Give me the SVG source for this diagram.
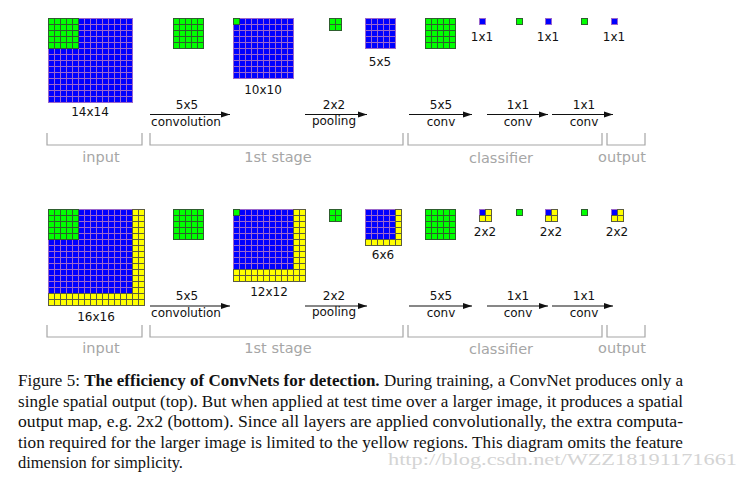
<svg xmlns="http://www.w3.org/2000/svg" width="749" height="478" viewBox="0 0 749 478">
<style>
.lb{font-family:"DejaVu Sans",sans-serif;font-size:12px;fill:#111;text-anchor:middle}
.gl{font-family:"DejaVu Sans",sans-serif;font-size:14.5px;fill:#a6a6a6;text-anchor:middle}
.br{fill:none;stroke:#a6a6a6;stroke-width:1.2}
.ar{stroke:#111;stroke-width:1.2;fill:none;marker-end:url(#ah)}
.cap{font-family:"Liberation Serif","Times New Roman",serif;font-size:17px;fill:#111}
.wm{font-family:"Liberation Serif",serif;font-size:16px;fill:#d4d4d4}
</style>
<defs>
<pattern id="pg" width="6" height="6" patternUnits="userSpaceOnUse"><rect width="6" height="6" fill="#00ff00"/><path d="M0.5 0V6M0 0.5H6" stroke="#2e5e2e" stroke-width="1"/></pattern>
<pattern id="pb" width="6" height="6" patternUnits="userSpaceOnUse"><rect width="6" height="6" fill="#0000ff"/><path d="M0.5 0V6M0 0.5H6" stroke="#9a66cc" stroke-width="1"/></pattern>
<pattern id="py" width="6" height="6" patternUnits="userSpaceOnUse"><rect width="6" height="6" fill="#ffff00"/><path d="M0.5 0V6M0 0.5H6" stroke="#5c5c40" stroke-width="1"/></pattern>
<marker id="ah" markerWidth="10" markerHeight="8" refX="9" refY="4" orient="auto" markerUnits="userSpaceOnUse"><path d="M0 1L9 4L0 7Z" fill="#111"/></marker>
</defs>
<rect width="749" height="478" fill="#fff"/>

<!-- top row -->
<g id="t-input" transform="translate(48,18)"><rect width="85" height="85" fill="url(#pb)"/><rect width="31" height="31" fill="url(#pg)"/></g>
<text class="lb" x="90" y="116">14x14</text>
<g id="t-k1" transform="translate(173,18)"><rect width="31" height="31" fill="url(#pg)"/></g>
<g id="t-c1" transform="translate(233,18)"><rect width="61" height="61" fill="url(#pb)"/><rect width="7" height="7" fill="url(#pg)"/></g>
<text class="lb" x="263" y="94">10x10</text>
<g id="t-p1" transform="translate(329,18)"><rect width="13" height="13" fill="url(#pg)"/></g>
<g id="t-s1" transform="translate(365,18)"><rect width="31" height="31" fill="url(#pb)"/></g>
<text class="lb" x="380" y="66">5x5</text>
<g id="t-k2" transform="translate(425,18)"><rect width="31" height="31" fill="url(#pg)"/></g>
<g id="t-o1" transform="translate(479,18)"><rect width="7" height="7" fill="url(#pb)"/></g>
<text class="lb" x="482" y="41">1x1</text>
<g id="t-k3" transform="translate(516,18)"><rect width="7" height="7" fill="url(#pg)"/></g>
<g id="t-o2" transform="translate(545,18)"><rect width="7" height="7" fill="url(#pb)"/></g>
<text class="lb" x="548" y="41">1x1</text>
<g id="t-k4" transform="translate(581,18)"><rect width="7" height="7" fill="url(#pg)"/></g>
<g id="t-o3" transform="translate(611,18)"><rect width="7" height="7" fill="url(#pb)"/></g>
<text class="lb" x="614" y="41">1x1</text>

<!-- bottom row -->
<g id="b-input" transform="translate(48,209)"><rect width="97" height="97" fill="url(#py)"/><rect width="84" height="84" fill="url(#pb)"/><rect width="31" height="31" fill="url(#pg)"/></g>
<text class="lb" x="96" y="321">16x16</text>
<g id="b-k1" transform="translate(173,209)"><rect width="31" height="31" fill="url(#pg)"/></g>
<g id="b-c1" transform="translate(233,209)"><rect width="73" height="73" fill="url(#py)"/><rect width="60" height="60" fill="url(#pb)"/><rect width="7" height="7" fill="url(#pg)"/></g>
<text class="lb" x="269" y="296">12x12</text>
<g id="b-p1" transform="translate(329,209)"><rect width="13" height="13" fill="url(#pg)"/></g>
<g id="b-s1" transform="translate(365,209)"><rect width="37" height="37" fill="url(#py)"/><rect width="30" height="30" fill="url(#pb)"/></g>
<text class="lb" x="383" y="259">6x6</text>
<g id="b-k2" transform="translate(425,209)"><rect width="31" height="31" fill="url(#pg)"/></g>
<g id="b-o1" transform="translate(479,209)"><rect width="13" height="13" fill="url(#py)"/><rect width="6" height="6" fill="url(#pb)"/></g>
<text class="lb" x="485" y="236">2x2</text>
<g id="b-k3" transform="translate(516,209)"><rect width="7" height="7" fill="url(#pg)"/></g>
<g id="b-o2" transform="translate(545,209)"><rect width="13" height="13" fill="url(#py)"/><rect width="6" height="6" fill="url(#pb)"/></g>
<text class="lb" x="551" y="236">2x2</text>
<g id="b-k4" transform="translate(581,209)"><rect width="7" height="7" fill="url(#pg)"/></g>
<g id="b-o3" transform="translate(611,209)"><rect width="13" height="13" fill="url(#py)"/><rect width="6" height="6" fill="url(#pb)"/></g>
<text class="lb" x="617" y="236">2x2</text>

<!-- connectors -->
<g id="connectors">
<path class="ar" d="M150 114.5H230"/><path class="ar" d="M305 114.5H367"/><path class="ar" d="M409 114.5H472"/><path class="ar" d="M487 114.5H548"/><path class="ar" d="M552 114.5H613"/>
<path class="ar" d="M150 306H230"/><path class="ar" d="M305 306H367"/><path class="ar" d="M409 306H472"/><path class="ar" d="M487 306H548"/><path class="ar" d="M552 306H613"/>
</g>
<g id="arrow-labels">
<text class="lb" x="187" y="109">5x5</text><text class="lb" x="186" y="126">convolution</text>
<text class="lb" x="334" y="109">2x2</text><text class="lb" x="334" y="125">pooling</text>
<text class="lb" x="441" y="109">5x5</text><text class="lb" x="441" y="126">conv</text>
<text class="lb" x="518" y="109">1x1</text><text class="lb" x="518" y="126">conv</text>
<text class="lb" x="584" y="109">1x1</text><text class="lb" x="584" y="126">conv</text>
<text class="lb" x="187" y="300">5x5</text><text class="lb" x="186" y="317">convolution</text>
<text class="lb" x="334" y="300">2x2</text><text class="lb" x="334" y="316">pooling</text>
<text class="lb" x="441" y="300">5x5</text><text class="lb" x="441" y="317">conv</text>
<text class="lb" x="518" y="300">1x1</text><text class="lb" x="518" y="317">conv</text>
<text class="lb" x="584" y="300">1x1</text><text class="lb" x="584" y="317">conv</text>
</g>

<!-- brackets -->
<g id="brackets">
<path class="br" d="M47 133V145H142V133M150 133V145H403V133M408 133V145H602V133M607 133V145H645V133"/>
<path class="br" d="M47 325V337H142V325M150 325V337H403V325M408 325V337H602V325M607 325V337H645V325"/>
<text class="gl" x="101" y="162">input</text><text class="gl" x="278" y="162">1st stage</text><text class="gl" x="501" y="163">classifier</text><text class="gl" x="622" y="162">output</text>
<text class="gl" x="101" y="353">input</text><text class="gl" x="278" y="353">1st stage</text><text class="gl" x="501" y="354">classifier</text><text class="gl" x="622" y="353">output</text>
</g>

<!-- caption -->
<g id="caption">
<text class="cap" x="18" y="386" textLength="665" lengthAdjust="spacingAndGlyphs">Figure 5: <tspan font-weight="bold">The efficiency of ConvNets for detection.</tspan> During training, a ConvNet produces only a</text>
<text class="cap" x="18" y="407" textLength="665" lengthAdjust="spacingAndGlyphs">single spatial output (top).  But when applied at test time over a larger image, it produces a spatial</text>
<text class="cap" x="18" y="427" textLength="665" lengthAdjust="spacingAndGlyphs">output map, e.g.  2x2 (bottom).  Since all layers are applied convolutionally, the extra computa-</text>
<text class="cap" x="18" y="448" textLength="665" lengthAdjust="spacingAndGlyphs">tion required for the larger image is limited to the yellow regions.  This diagram omits the feature</text>
<text class="cap" x="18" y="468" textLength="165" lengthAdjust="spacingAndGlyphs">dimension for simplicity.</text>
</g>
<text class="wm" x="388" y="465" textLength="349" lengthAdjust="spacingAndGlyphs">http://blog.csdn.net/WZZ18191171661</text>
</svg>
